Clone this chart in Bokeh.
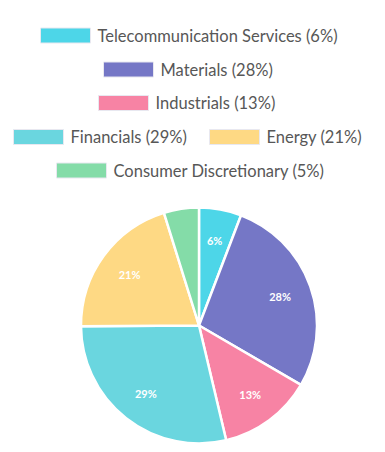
import math
from bokeh.plotting import figure
from bokeh.models import Range1d, ColumnDataSource
from bokeh.core.properties import value
from bokeh.embed import file_html
from bokeh.resources import INLINE

categories = ["Telecommunication Services", "Materials", "Industrials",
              "Financials", "Energy", "Consumer Discretionary"]
values = [5.8, 27.6, 12.9, 28.6, 20.3, 4.8]
pct_labels = ["6%", "28%", "13%", "29%", "21%", "5%"]
colors = ["#4dd6e8", "#7577c6", "#f783a4", "#6ad6df", "#fed984", "#84dca8"]

W, H = 377, 444
p = figure(width=W, height=H, output_backend="svg", toolbar_location=None,
           x_range=Range1d(0, W), y_range=Range1d(0, H), min_border=0)
p.axis.visible = False
p.grid.visible = False
p.outline_line_color = None
p.background_fill_color = "white"

def px(x):
    return x

def py(y):
    return H - y

# pie
cx, cy, R = px(198.5), py(325), 118
total = sum(values)
starts, ends, lx, ly, plab = [], [], [], [], []
cum = 0.0
for v, l in zip(values, pct_labels):
    a0 = math.pi / 2 - cum / total * 2 * math.pi
    cum += v
    a1 = math.pi / 2 - cum / total * 2 * math.pi
    starts.append(a0)
    ends.append(a1)
    mid = (a0 + a1) / 2
    lx.append(cx + 86 * math.cos(mid))
    ly.append(cy + 86 * math.sin(mid))
    plab.append(l if v / total >= 0.055 else "")

src = ColumnDataSource(dict(start=starts, end=ends, color=colors,
                            lx=lx, ly=ly, lab=plab))
p.wedge(x=cx, y=cy, radius=R, start_angle="start", end_angle="end",
        direction="clock", fill_color="color", line_color="white",
        line_width=2.5, source=src)
p.text(x="lx", y="ly", text="lab", source=src, text_color="white",
       text_font=value("Lato"), text_font_style="bold", text_font_size="11px",
       text_align="center", text_baseline="middle")

# legend (manual layout, same wrapping as reference)
leg_items = [f"{c} ({l})" for c, l in zip(categories, pct_labels)]
sw_x = [40, 103, 98, 13, 209, 56]
sw_y = [35, 69, 102.5, 136.5, 136.5, 170]
lsrc = ColumnDataSource(dict(
    x=[px(s + 25) for s in sw_x], y=[py(s) for s in sw_y],
    tx=[px(s + 57) for s in sw_x], txt=leg_items, color=colors))
p.rect(x="x", y="y", width=50, height=15, fill_color="color",
       line_color="#e8e8f0", line_width=1, source=lsrc)
p.text(x="tx", y="y", text="txt", source=lsrc, text_color="#575757",
       text_font=value("Lato"), text_font_size="16.5px",
       text_baseline="middle", text_align="left")

open("out.html", "w").write(file_html(p, INLINE))
